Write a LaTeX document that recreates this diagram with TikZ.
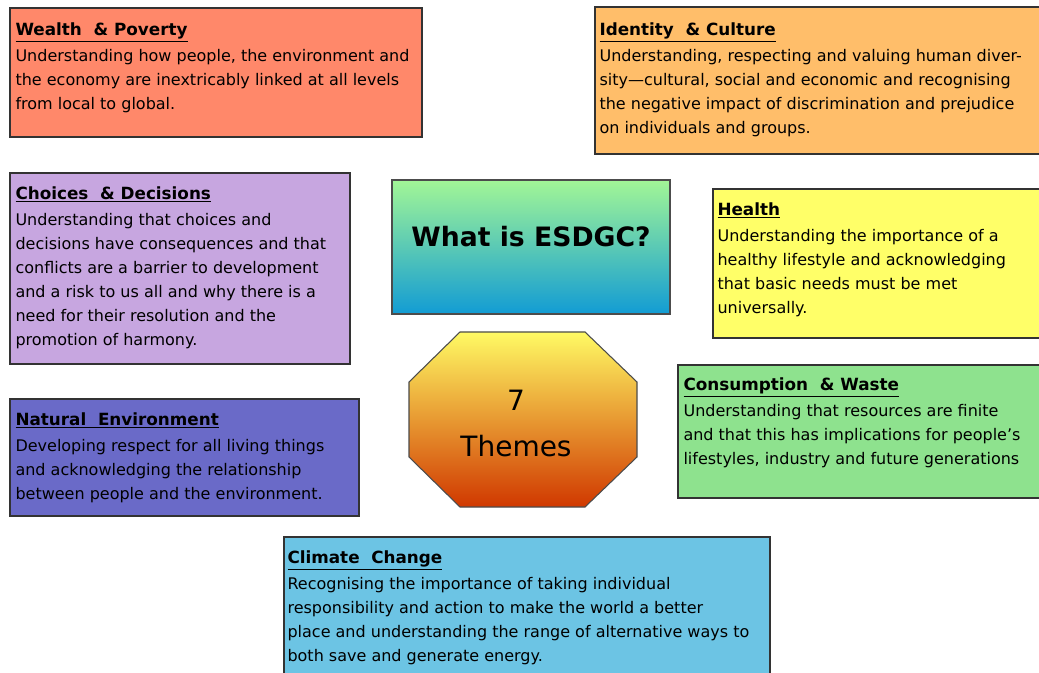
\documentclass[tikz,border=0pt]{standalone}
\usepackage{fontspec}
\setmainfont{DejaVu Sans}
\usetikzlibrary{positioning, fit}
\definecolor{ThWealth}{RGB}{255,136,106}
\definecolor{ThIdentity}{RGB}{255,190,106}
\definecolor{ThChoices}{RGB}{199,166,224}
\definecolor{ThHealth}{RGB}{255,255,104}
\definecolor{ThNature}{RGB}{106,106,200}
\definecolor{ThWaste}{RGB}{142,226,142}
\definecolor{ThClimate}{RGB}{108,196,228}
\definecolor{HubTop}{RGB}{162,246,150}
\definecolor{HubMid}{RGB}{80,202,196}
\definecolor{HubBot}{RGB}{18,156,212}
\definecolor{OctTop}{RGB}{255,250,100}
\definecolor{OctMid}{RGB}{240,184,52}
\definecolor{OctBot}{RGB}{208,56,0}
\newcommand{\themehead}[1]{{\fontsize{12.6}{18}\selectfont\bfseries\underline{#1}}}

\begin{document}
\begin{tikzpicture}[x=0.75pt, y=-0.75pt,
    theme/.style={draw=black!80, line width=1.1pt, inner sep=0pt},
    blurb/.style={align=left, inner sep=0pt, text=black,
                  font=\fontsize{12}{18}\selectfont},
    hub/.style={draw=black!70, line width=0.8pt, inner sep=0pt}
  ]
  \useasboundingbox (0,0) rectangle (1039,673);
  \clip (0,0) rectangle (1039,673);

  % Theme boxes
  \node[theme, fill=ThWealth, fit={(10,8) (422,137)}] (wealth) {};
  \node[blurb, below right=11.5pt and 4.5pt of wealth.north west] (wealthtxt)
    {\themehead{Wealth \ \& Poverty}\\[1.5pt]
     Understanding how people, the environment and\\
     the economy are inextricably linked at all levels\\
     from local to global.};

  \node[theme, fill=ThIdentity, fit={(595,7) (1045,154)}] (identity) {};
  \node[blurb, below right=12pt and 3.75pt of identity.north west] (identitytxt)
    {\themehead{Identity \ \& Culture}\\[1.5pt]
     Understanding, respecting and valuing human diver-\\
     sity---cultural, social and economic and recognising\\
     the negative impact of discrimination and prejudice\\
     on individuals and groups.};

  \node[theme, fill=ThChoices, fit={(10,173) (350,364)}] (choices) {};
  \node[blurb, below right=10.5pt and 4.5pt of choices.north west] (choicestxt)
    {\themehead{Choices \ \& Decisions}\\[1.5pt]
     Understanding that choices and\\
     decisions have consequences and that\\
     conflicts are a barrier to development\\
     and a risk to us all and why there is a\\
     need for their resolution and the\\
     promotion of harmony.};

  \node[theme, fill=ThHealth, fit={(713,189) (1045,338)}] (health) {};
  \node[blurb, below right=10.5pt and 3.75pt of health.north west] (healthtxt)
    {\themehead{Health}\\[1.5pt]
     Understanding the importance of a\\
     healthy lifestyle and acknowledging\\
     that basic needs must be met\\
     universally.};

  \node[theme, fill=ThNature, fit={(10,399) (359,516)}] (nature) {};
  \node[blurb, below right=10.5pt and 4.5pt of nature.north west] (naturetxt)
    {\themehead{Natural \ Environment}\\[1.5pt]
     Developing respect for all living things\\
     and acknowledging the relationship\\
     between people and the environment.};

  \node[theme, fill=ThWaste, fit={(678,365) (1045,498)}] (waste) {};
  \node[blurb, below right=10pt and 4.5pt of waste.north west] (wastetxt)
    {\themehead{Consumption \ \& Waste}\\[1.5pt]
     Understanding that resources are finite\\
     and that this has implications for people's\\
     lifestyles, industry and future generations};

  \node[theme, fill=ThClimate, fit={(284,537) (770,680)}] (climate) {};
  \node[blurb, below right=10.5pt and 3pt of climate.north west] (climatetxt)
    {\themehead{Climate \ Change}\\[1.5pt]
     Recognising the importance of taking individual\\
     responsibility and action to make the world a better\\
     place and understanding the range of alternative ways to\\
     both save and generate energy.};

  % Centre pieces
  \node[hub, fit={(392,180) (670,314)}, top color=HubTop, middle color=HubMid,
        bottom color=HubBot, font=\fontsize{20}{24}\selectfont\bfseries] (esdgc)
    {What is ESDGC?};

  \shade[draw=black!70, line width=0.8pt, top color=OctTop, middle color=OctMid,
         bottom color=OctBot]
    (460,332) -- (585,332) -- (637,382) -- (637,457) -- (585,507)
    -- (460,507) -- (409,457) -- (409,382) -- cycle;
  \node[align=center, font=\fontsize{21}{34.5}\selectfont] (themes) at (516,423)
    {7\\Themes};
\end{tikzpicture}
\end{document}
